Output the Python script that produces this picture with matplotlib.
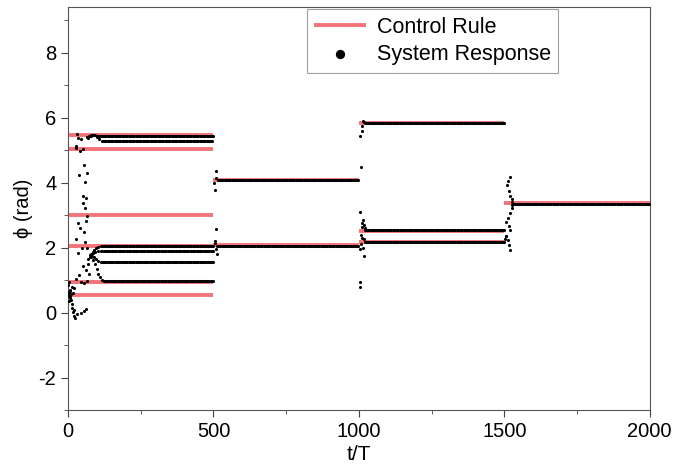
import matplotlib.pyplot as plt
import numpy as np

plt.rcParams['font.family'] = ['Liberation Sans', 'DejaVu Sans']
plt.rcParams['axes.unicode_minus'] = False

# control rule: target phase of each oscillator in each interval
ctrl_level = [5.45, 5.02, 3.00, 2.04, 0.93, 0.55,
              4.08, 2.07,
              5.82, 2.52, 2.17,
              3.36]
ctrl_start = [0, 0, 0, 0, 0, 0, 500, 500, 1000, 1000, 1000, 1500]
ctrl_end = [500, 500, 500, 500, 500, 500, 1000, 1000, 1500, 1500, 1500, 2000]

# settled response: level, first settled t, last t
resp_level = [5.42, 5.28, 2.04, 1.89, 1.55, 0.96,
              4.08, 2.06,
              5.84, 2.54, 2.18,
              3.35]
resp_start = [104, 120, 116, 118, 116, 126, 514, 512, 1020, 1020, 1020, 1534]
resp_end = [500, 498, 500, 498, 500, 500, 998, 998, 1500, 1500, 1500, 2000]

# converging branches after the first switch-on
conv_t = [66, 72, 78, 86, 92, 100,
          70, 80, 90, 100, 108, 116,
          78, 84, 90, 96, 104, 112,
          80, 86, 94, 104, 114,
          76, 82, 88, 96, 104, 112,
          80, 86, 92, 98, 104, 110, 116, 122]
conv_phi = [5.40, 5.44, 5.46, 5.47, 5.46, 5.43,
            5.38, 5.44, 5.45, 5.40, 5.34, 5.29,
            1.80, 1.86, 1.93, 1.98, 2.02, 2.04,
            1.78, 1.82, 1.86, 1.88, 1.89,
            1.72, 1.74, 1.72, 1.66, 1.60, 1.56,
            1.70, 1.62, 1.50, 1.35, 1.20, 1.08, 1.00, 0.97]

# scattered transient points at each switch
scat_t = [32, 26, 41, 50, 44, 55, 38, 64, 58, 53, 62, 50, 58, 64, 35, 41,
          55, 62, 26, 58, 47, 35, 64, 39, 53, 62, 27, 45, 55, 66, 24, 30,
          45, 55, 60, 20, 15, 10, 5, 8, 12, 3, 18, 22, 70, 74, 68, 72,
          0, 2, 4, 6, 1, 3, 5, 7, 9, 0, 2, 4, 14, 17, 21, 35, 27,
          508, 505, 508, 511, 508, 503, 510, 506, 504,
          1006, 1015, 1018, 1010, 1012, 1005, 1003, 1015, 1012, 1018, 1010,
          1003, 1017, 1003, 1004, 1008, 1012, 1006, 1014, 1020, 1016,
          1519, 1513, 1510, 1517, 1521, 1525, 1525, 1519, 1513, 1507, 1517,
          1521, 1507, 1513, 1517, 1521, 1503, 1505, 1528, 1528]
scat_phi = [5.50, 5.12, 4.96, 5.04, 5.34, 4.55, 4.22, 4.28, 4.01, 3.58, 3.53,
            3.37, 3.22, 2.98, 2.74, 2.60, 2.47, 2.81, 2.27, 2.16, 1.99, 1.84,
            1.99, 1.17, 1.43, 1.32, 1.02, 0.95, 0.90, 0.98, -0.18, -0.06,
            0.00, 0.05, 0.12, 0.09, 0.25, 0.40, 0.50, 0.70, 0.80, 0.62, 0.60,
            0.75, 1.65, 1.78, 1.50, 1.20,
            0.55, 0.55, 0.56, 0.54, 0.60, 0.50, 0.65, 0.45, 0.58, 0.85, 0.95,
            0.35, 0.15, 0.02, -0.10, 5.37, 5.05,
            4.35, 3.78, 2.57, 1.81, 1.94, 4.00, 4.14, 2.14, 2.20,
            4.48, 5.89, 5.85, 5.75, 5.58, 5.42, 3.09, 2.86, 2.75, 2.70, 2.62,
            1.94, 1.73, 0.94, 0.79, 2.40, 2.30, 2.10, 2.00, 2.60, 2.25,
            4.18, 4.05, 3.92, 3.74, 3.60, 3.49, 3.22, 3.06, 2.90, 2.80, 2.67,
            2.55, 2.34, 2.24, 2.09, 1.93, 2.25, 2.35, 3.40, 3.30]

step = 4
red = '#f27479'

fig = plt.figure(figsize=(6.74, 4.71), dpi=100)
ax = fig.add_axes([0.101, 0.1295, 0.863, 0.8555])

ax.hlines(ctrl_level, ctrl_start, ctrl_end, colors=red, linewidth=2.8,
          zorder=2, label='Control Rule')

rt, rp = [], []
for lv, t0, t1 in zip(resp_level, resp_start, resp_end):
    ts = np.arange(t0, t1 + 1, step)
    rt.extend(ts)
    rp.extend([lv] * len(ts))
rt.extend(conv_t)
rp.extend(conv_phi)
rt.extend(scat_t)
rp.extend(scat_phi)
ax.scatter(rt, rp, s=5, color='black', linewidths=0, zorder=3,
           label='System Response')

ax.set_xlim(0, 2000)
ax.set_ylim(-3, 9.4)
ax.set_xticks([0, 500, 1000, 1500, 2000])
ax.set_xticks([250, 750, 1250, 1750], minor=True)
ax.set_yticks([-2, 0, 2, 4, 6, 8])
ax.set_yticks([-3, -1, 1, 3, 5, 7, 9], minor=True)
ax.tick_params(which='major', direction='out', length=5, labelsize=14.5,
               color='#444444')
ax.tick_params(which='minor', direction='out', length=3, color='#444444')
for sp in ax.spines.values():
    sp.set_color('#555555')

ax.set_xlabel('t/T', fontsize=15, labelpad=3)
ax.set_ylabel('\u03d5 (rad)', fontsize=14.5, labelpad=4)

leg = ax.legend(loc='upper left', bbox_to_anchor=(0.41, 0.995),
                borderaxespad=0, fontsize=15.5, frameon=True, fancybox=False,
                edgecolor='#888888', handlelength=2.4, handletextpad=0.5,
                markerscale=3.0, borderpad=0.35, labelspacing=0.3)
leg.get_frame().set_linewidth(0.8)

fig.savefig('out.png', dpi=100)
